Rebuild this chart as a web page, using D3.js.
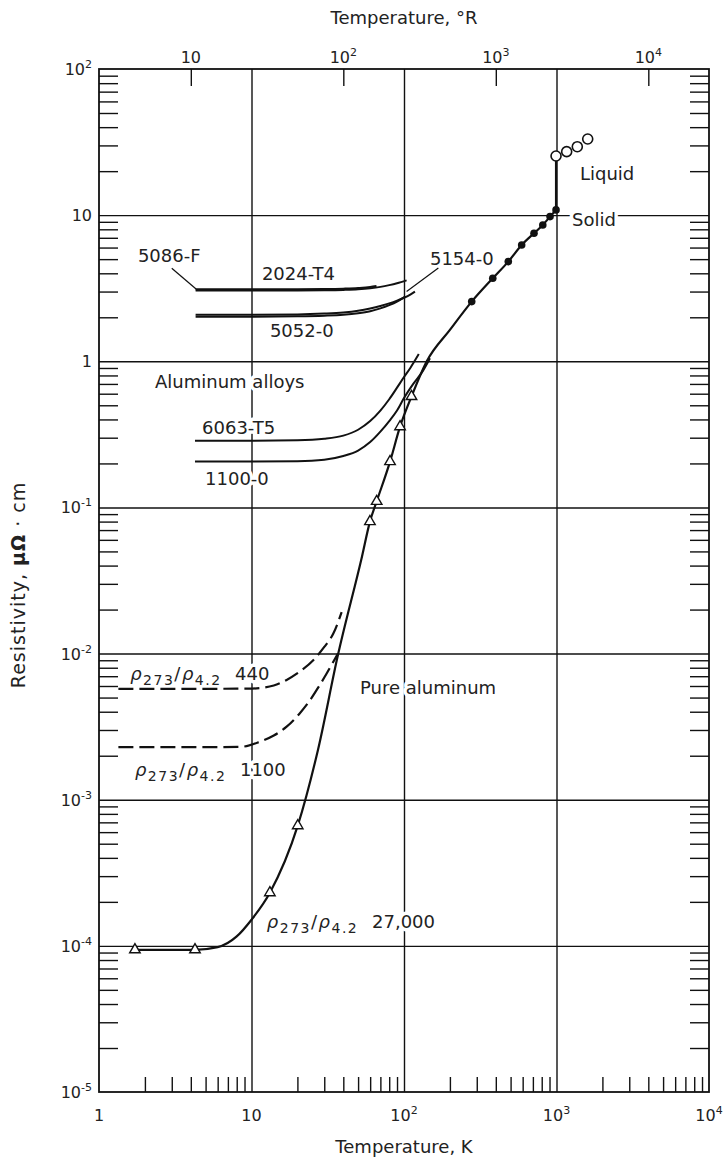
<!DOCTYPE html>
<html>
<head>
<meta charset="utf-8">
<script src="https://cdnjs.cloudflare.com/ajax/libs/d3/7.8.5/d3.min.js"></script>
<style>
  body { margin: 0; background: #fff; }
  svg { display: block; font-family: "DejaVu Sans", sans-serif; }
</style>
</head>
<body>
<div id="chart"></div>
<script>
// axis ticks
const kDecades = [1, 10, 100, 1000, 10000];
const rhoDecades = [1e-5, 1e-4, 1e-3, 1e-2, 1e-1, 1, 10, 100];
const rankineTicks = [10, 100, 1000, 10000];

// pure aluminium, rho273/rho4.2 = 27,000 (K, micro-ohm cm)
const pureT = [1.72, 4.26, 6, 8, 10, 13.2, 20.1, 27.3, 36.9, 53, 59.8, 66.2, 81, 94.2, 112, 141, 200, 278, 382, 483, 591, 712, 813, 907, 993];
const pureR = [9.4e-5, 9.4e-5, 9.8e-5, 1.16e-4, 1.51e-4, 2.31e-4, 6.64e-4, 2.2e-3, 9.8e-3, 0.046, 0.080, 0.110, 0.206, 0.357, 0.574, 1.0, 1.64, 2.56, 3.70, 4.81, 6.25, 7.52, 8.57, 9.77, 10.86];
const triT = [1.72, 4.26, 13.2, 20.1, 59.8, 66.2, 81, 94.2, 112];
const triR = [9.4e-5, 9.4e-5, 2.31e-4, 6.64e-4, 0.080, 0.110, 0.206, 0.357, 0.574];
const solidT = [278, 382, 483, 591, 712, 813, 907, 993];
const solidR = [2.56, 3.70, 4.81, 6.25, 7.52, 8.57, 9.77, 10.86];
const meltT = [993, 993];
const meltR = [10.86, 25.4];
const liquidT = [993, 1166, 1369, 1602];
const liquidR = [25.4, 27.2, 29.4, 33.2];

// less pure aluminium (dashed)
const r440T = [1.34, 5, 10, 14, 17, 21, 25.4, 30, 34.4, 39];
const r440R = [5.74e-3, 5.74e-3, 5.76e-3, 6.05e-3, 6.6e-3, 7.6e-3, 9.0e-3, 0.0111, 0.0137, 0.0192];
const r1100T = [1.34, 5, 8.5, 11.4, 14, 17, 20.5, 24.2, 27.5, 31.1, 34, 36.9];
const r1100R = [2.29e-3, 2.29e-3, 2.3e-3, 2.5e-3, 2.75e-3, 3.16e-3, 3.85e-3, 4.8e-3, 5.9e-3, 7.3e-3, 8.6e-3, 1.0e-2];

// aluminium alloys
const a5086T = [4.3, 10, 20, 30, 40, 50, 60, 66];
const a5086R = [3.11, 3.11, 3.11, 3.12, 3.14, 3.17, 3.22, 3.27];
const a2024T = [4.3, 10, 20, 30, 40, 50, 60, 70, 80, 90, 104];
const a2024R = [3.05, 3.05, 3.05, 3.06, 3.08, 3.11, 3.16, 3.23, 3.32, 3.42, 3.58];
const a5154T = [4.3, 10, 20, 30, 40, 50, 60, 70, 80, 90, 100, 110, 118];
const a5154R = [2.08, 2.08, 2.09, 2.12, 2.16, 2.22, 2.3, 2.39, 2.49, 2.6, 2.72, 2.86, 3.0];
const a5052T = [4.3, 10, 20, 30, 40, 50, 60, 70, 80, 90, 101.6];
const a5052R = [2.02, 2.02, 2.03, 2.05, 2.08, 2.13, 2.2, 2.3, 2.42, 2.56, 2.77];
const a6063T = [4.26, 10, 20, 30, 40, 50, 60, 70, 80, 90, 100, 110, 125];
const a6063R = [0.286, 0.286, 0.288, 0.295, 0.31, 0.34, 0.39, 0.46, 0.55, 0.66, 0.78, 0.9, 1.12];
const a1100T = [4.26, 10, 20, 30, 40, 50, 60, 70, 80, 90, 100, 115, 133, 148];
const a1100R = [0.206, 0.206, 0.207, 0.212, 0.225, 0.245, 0.28, 0.33, 0.39, 0.46, 0.56, 0.70, 0.86, 1.05];

const W = 724, H = 1162;
const plotLeft = 99, plotRight = 709, plotTop = 69, plotBottom = 1092;

const x = d3.scaleLog().domain([1, 1e4]).range([plotLeft, plotRight]);
const y = d3.scaleLog().domain([1e-5, 1e2]).range([plotBottom, plotTop]);
// degrees Rankine scale, placed as it is drawn on the original sheet
const xR = d3.scaleLog().domain([2.5, 2.5e4]).range([plotLeft, plotRight]);

const svg = d3.select("#chart").append("svg")
  .attr("width", W).attr("height", H);

const zip = (a, b) => a.map((v, i) => [v, b[i]]);
const minors = decs => decs.slice(0, -1).flatMap(d => d3.range(2, 10).map(m => d * m));

const noDomain = g => g.select(".domain").remove();
const tickStyle = g => g.selectAll("line").attr("stroke", "#111").attr("stroke-width", 1.4);

// grid lines
svg.append("g").attr("transform", `translate(0,${plotBottom})`)
  .call(d3.axisBottom(x).tickValues(kDecades.slice(1, -1)).tickSize(-(plotBottom - plotTop)).tickFormat(""))
  .call(noDomain).call(tickStyle);
svg.append("g").attr("transform", `translate(${plotLeft},0)`)
  .call(d3.axisLeft(y).tickValues(rhoDecades.slice(1, -1)).tickSize(-(plotRight - plotLeft)).tickFormat(""))
  .call(noDomain).call(tickStyle);

// minor ticks, pointing inwards
svg.append("g").attr("transform", `translate(0,${plotBottom})`)
  .call(d3.axisBottom(x).tickValues(minors(kDecades)).tickSize(-15).tickFormat(""))
  .call(noDomain).call(tickStyle);
svg.append("g").attr("transform", `translate(${plotLeft},0)`)
  .call(d3.axisLeft(y).tickValues(minors(rhoDecades)).tickSize(-19).tickFormat(""))
  .call(noDomain).call(tickStyle);
svg.append("g").attr("transform", `translate(${plotRight},0)`)
  .call(d3.axisRight(y).tickValues(minors(rhoDecades)).tickSize(-19).tickFormat(""))
  .call(noDomain).call(tickStyle);
svg.append("g").attr("transform", `translate(0,${plotTop})`)
  .call(d3.axisTop(xR).tickValues(rankineTicks).tickSize(-17).tickFormat(""))
  .call(noDomain).call(tickStyle);

// frame
svg.append("rect")
  .attr("x", plotLeft).attr("y", plotTop)
  .attr("width", plotRight - plotLeft).attr("height", plotBottom - plotTop)
  .attr("fill", "none").attr("stroke", "#111").attr("stroke-width", 1.8);

function powText(sel, v) {
  const n = Math.round(Math.log10(v));
  if (n === 0) { sel.text("1"); return; }
  sel.text("10");
  if (n !== 1) {
    sel.append("tspan").attr("dy", -7).attr("font-size", 11)
      .text(n < 0 ? "-" + (-n) : String(n));
  }
}

const tickLabels = svg.append("g").attr("font-size", 16).attr("fill", "#222");
rhoDecades.forEach(v => {
  tickLabels.append("text").attr("x", plotLeft - 7).attr("y", y(v) + 6)
    .attr("text-anchor", "end").call(powText, v);
});
kDecades.forEach(v => {
  tickLabels.append("text").attr("x", x(v)).attr("y", plotBottom + 29)
    .attr("text-anchor", "middle").call(powText, v);
});
rankineTicks.forEach(v => {
  tickLabels.append("text").attr("x", xR(v)).attr("y", plotTop - 6)
    .attr("text-anchor", "middle").call(powText, v);
});

// axis titles
svg.append("text").attr("x", (plotLeft + plotRight) / 2).attr("y", 24)
  .attr("text-anchor", "middle").attr("font-size", 18).attr("fill", "#222")
  .text("Temperature, °R");
svg.append("text").attr("x", (plotLeft + plotRight) / 2).attr("y", 1153)
  .attr("text-anchor", "middle").attr("font-size", 18).attr("fill", "#222")
  .text("Temperature, K");
const yTitle = svg.append("text")
  .attr("transform", "translate(25,585) rotate(-90)")
  .attr("text-anchor", "middle").attr("font-size", 19).attr("letter-spacing", 1)
  .attr("fill", "#222");
yTitle.append("tspan").text("Resistivity, ");
yTitle.append("tspan").attr("font-weight", "bold").text("μΩ");
yTitle.append("tspan").text(" · cm");

// annotations: a white copy underneath breaks the grid lines
const haloLayer = svg.append("g").attr("font-size", 18).attr("fill", "#fff")
  .attr("stroke", "#fff").attr("stroke-width", 7).attr("stroke-linejoin", "round");
const noteLayer = svg.append("g").attr("font-size", 18).attr("fill", "#222");

function note(k, r, build) {
  [haloLayer, noteLayer].forEach(layer => {
    build(layer.append("text").attr("x", x(k)).attr("y", y(r)));
  });
}

const plainNotes = [
  ["5086-F", 1.80, 4.79],
  ["2024-T4", 11.7, 3.6],
  ["5154-0", 148, 4.56],
  ["5052-0", 13.2, 1.47],
  ["Aluminum alloys", 2.33, 0.658],
  ["6063-T5", 4.74, 0.319],
  ["1100-0", 4.96, 0.143],
  ["Liquid", 1426, 17.4],
  ["Solid", 1264, 8.43],
  ["Pure aluminum", 51.5, 5.3e-3]
];
plainNotes.forEach(([t, k, r]) => note(k, r, s => s.text(t)));

const ratioNotes = [
  ["440", 1.6, 6.6e-3, 7.8],
  ["1100", 1.72, 1.46e-3, 8.4],
  ["27,000", 12.6, 1.33e-4, 61.7]
];
ratioNotes.forEach(([num, k, r, kNum]) => {
  note(k, r, t => {
    t.attr("letter-spacing", 1.5);
    t.append("tspan").attr("font-style", "italic").text("ρ");
    t.append("tspan").attr("dy", 5).attr("font-size", 14).text("273");
    t.append("tspan").attr("dy", -5).text("/");
    t.append("tspan").attr("font-style", "italic").text("ρ");
    t.append("tspan").attr("dy", 5).attr("font-size", 14).text("4.2");
  });
  note(kNum, r, t => t.text(num));
});

// leader lines
const leaders = [
  [[3.0, 4.33], [4.33, 3.12]],
  [[168, 4.35], [104, 3.0]]
];
const lineXY = d3.line().x(d => x(d[0])).y(d => y(d[1]));
leaders.forEach(l => {
  svg.append("path").attr("d", lineXY(l))
    .attr("fill", "none").attr("stroke", "#111").attr("stroke-width", 1.2);
});

// curves
const curve = d3.line().x(d => x(d[0])).y(d => y(d[1])).curve(d3.curveMonotoneX);
const plot = svg.append("g").attr("fill", "none").attr("stroke", "#111")
  .attr("stroke-linecap", "butt");

[[a5086T, a5086R], [a2024T, a2024R], [a5154T, a5154R], [a5052T, a5052R],
 [a6063T, a6063R], [a1100T, a1100R]].forEach(([t, r]) => {
  plot.append("path").attr("d", curve(zip(t, r))).attr("stroke-width", 2);
});

[[r440T, r440R], [r1100T, r1100R]].forEach(([t, r]) => {
  plot.append("path").attr("d", curve(zip(t, r)))
    .attr("stroke-width", 2.2).attr("stroke-dasharray", "15 6");
});

plot.append("path").attr("d", curve(zip(pureT, pureR))).attr("stroke-width", 2.2);
plot.append("path").attr("d", lineXY(zip(meltT, meltR))).attr("stroke-width", 2.2);

// markers
const tri = d3.symbol().type(d3.symbolTriangle).size(48);
svg.append("g").selectAll("path").data(zip(triT, triR)).join("path")
  .attr("transform", d => `translate(${x(d[0])},${y(d[1])})`)
  .attr("d", tri).attr("fill", "#fff").attr("stroke", "#111").attr("stroke-width", 1.4);

svg.append("g").selectAll("circle").data(zip(solidT, solidR)).join("circle")
  .attr("cx", d => x(d[0])).attr("cy", d => y(d[1])).attr("r", 3.8)
  .attr("fill", "#111");

svg.append("g").selectAll("circle").data(zip(liquidT, liquidR)).join("circle")
  .attr("cx", d => x(d[0])).attr("cy", d => y(d[1])).attr("r", 5)
  .attr("fill", "#fff").attr("stroke", "#111").attr("stroke-width", 1.6);
</script>
</body>
</html>
